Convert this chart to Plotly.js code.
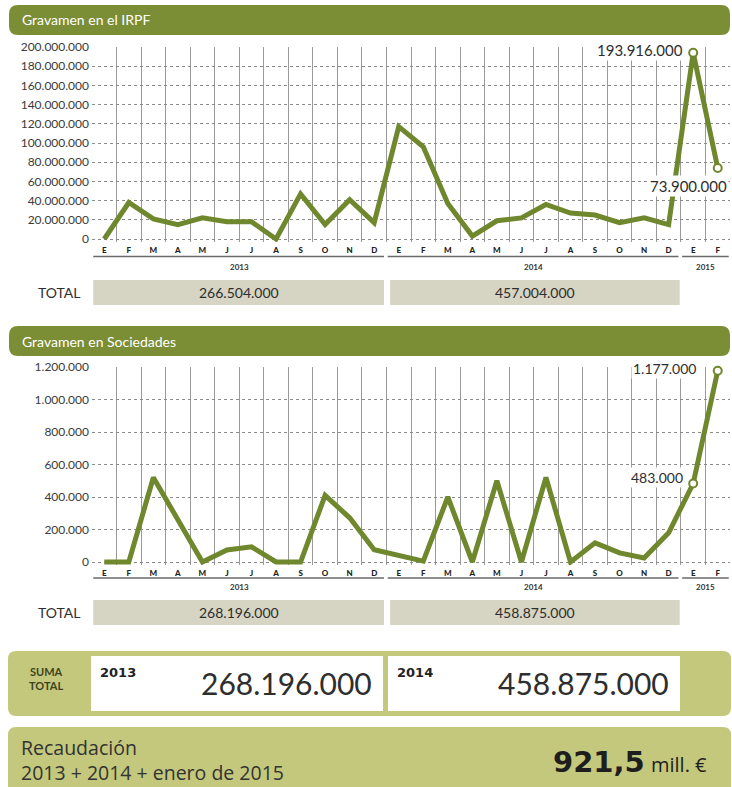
<!DOCTYPE html>
<html><head><meta charset="utf-8">
<script src="https://cdn.plot.ly/plotly-3.0.1.min.js"></script>
<style>html,body{margin:0;padding:0;background:#fff}#chart{width:732px;height:787px}</style>
</head><body><div id="chart"></div>
<script>
// ---- data ----
const months = ['E','F','M','A','M','J','J','A','S','O','N','D',
                'E','F','M','A','M','J','J','A','S','O','N','D',
                'E','F'];
const irpf = [0, 38e6, 21e6, 15e6, 22e6, 18e6, 18e6, 0, 47e6, 15e6, 41e6, 17e6,
              117e6, 96e6, 37e6, 3e6, 19e6, 22e6, 36e6, 27e6, 25e6, 17e6, 22e6, 15e6,
              193916000, 73900000];
const sociedades = [0, 0, 520e3, 265e3, 0, 74e3, 93e3, 0, 0, 410e3, 272e3, 75e3,
                    40e3, 5e3, 400e3, 0, 500e3, 0, 520e3, 0, 118e3, 56e3, 25e3, 180e3,
                    483e3, 1177e3];
const years = ['2013','2014','2015'];
const yearStart = [0, 12, 24];
const yearEnd = [11, 23, 25];
const totalsIRPF = ['266.504.000','457.004.000'];
const totalsSoc = ['268.196.000','458.875.000'];
const sumYears = ['2013','2014'];
const sumValues = ['268.196.000','458.875.000'];
const irpfLabels = ['193.916.000','73.900.000'];
const socLabels = ['483.000','1.177.000'];
const grandTotal = '921,5';

// ---- helpers ----
const W = 732, H = 787;
const px = x => x / W;
const py = y => 1 - y / H;
const idx = months.map((_, i) => i);
const half = months.slice(0, -1).map((_, i) => i + 0.5);
const olive = '#7b8d35', lineCol = '#6f872d', textCol = '#2e2e2e';
const boxCol = '#d6d4c2', panelCol = '#c4c87c';

function rrect(x0, y0, x1, y1, r, fill) {
  const X = v => px(v).toFixed(5), Y = v => py(v).toFixed(5);
  const p = `M${X(x0+r)},${Y(y0)} L${X(x1-r)},${Y(y0)} Q${X(x1)},${Y(y0)} ${X(x1)},${Y(y0+r)} ` +
            `L${X(x1)},${Y(y1-r)} Q${X(x1)},${Y(y1)} ${X(x1-r)},${Y(y1)} L${X(x0+r)},${Y(y1)} ` +
            `Q${X(x0)},${Y(y1)} ${X(x0)},${Y(y1-r)} L${X(x0)},${Y(y0+r)} Q${X(x0)},${Y(y0)} ${X(x0+r)},${Y(y0)} Z`;
  return {type:'path', xref:'paper', yref:'paper', path:p, fillcolor:fill, line:{width:0}, layer:'below'};
}
function rect(xref, x0, x1, y0, y1, fill) {
  return {type:'rect', xref:xref, yref:'paper', x0:x0, x1:x1, y0:py(y1), y1:py(y0),
          fillcolor:fill, line:{width:0}, layer:'below'};
}
function txt(text, x, y, opts) {
  return Object.assign({text:text, x:px(x), y:py(y), xref:'paper', yref:'paper',
    showarrow:false, xanchor:'left', yanchor:'middle',
    font:{family:'Lato', size:13, color:textCol}}, opts || {});
}

const shapes = [], annotations = [];

// header bars
shapes.push(rrect(9, 5, 730, 35, 9, olive));
shapes.push(rrect(9, 326, 730, 356, 9, olive));
annotations.push(txt('Gravamen en el IRPF', 20, 20, {font:{family:'Lato', size:14, color:'#fff'}}));
annotations.push(txt('Gravamen en Sociedades', 20, 341, {font:{family:'Lato', size:14, color:'#fff'}}));

// year group lines, year labels, total boxes for both charts
function groupDecor(xref, lineY, labelY, boxY0, boxY1, totals) {
  years.forEach((yr, k) => {
    shapes.push({type:'line', xref:xref, yref:'paper', x0:yearStart[k]-0.45,
      x1: k === years.length-1 ? yearEnd[k]+0.45 : yearEnd[k]+0.4,
      y0:py(lineY), y1:py(lineY), line:{color:'#6a6a6a', width:1.5}});
    annotations.push({text:yr, xref:xref, yref:'paper',
      x:(yearStart[k]+yearEnd[k])/2, y:py(labelY), showarrow:false, yanchor:'middle',
      font:{family:'Lato', size:8, color:'#333', weight:'bold'}});
  });
  totals.forEach((t, k) => {
    const a = yearStart[k] - (k === 0 ? 0.45 : 0.35), b = yearEnd[k] + (k === 0 ? 0.4 : 0.45);
    shapes.push(rect(xref, a, b, boxY0, boxY1, boxCol));
    annotations.push({text:t, xref:xref, yref:'paper', x:(a+b)/2, y:py((boxY0+boxY1)/2),
      showarrow:false, yanchor:'middle', font:{family:'Lato', size:14, color:textCol}});
  });
  annotations.push(txt('TOTAL', 60, (boxY0+boxY1)/2, {xanchor:'center', font:{family:'Lato', size:14, color:textCol}}));
}
groupDecor('x', 256.5, 266.5, 280, 305, totalsIRPF);
groupDecor('x2', 578, 587, 600, 625, totalsSoc);

// value annotations
annotations.push({text:irpfLabels[0], xref:'x', yref:'y', x:24, y:irpf[24], showarrow:false,
  xanchor:'right', yanchor:'middle', xshift:-8, yshift:3, bgcolor:'#fff',
  font:{family:'Lato', size:15, color:textCol}});
annotations.push({text:irpfLabels[1], xref:'x', yref:'y', x:25, y:irpf[25], showarrow:false,
  xanchor:'right', yanchor:'middle', xshift:11, yshift:-18, bgcolor:'#fff',
  font:{family:'Lato', size:15, color:textCol}});
annotations.push({text:socLabels[1], xref:'x2', yref:'y2', x:25, y:sociedades[25], showarrow:false,
  xanchor:'right', yanchor:'middle', xshift:-20, yshift:2, bgcolor:'#fff',
  font:{family:'Lato', size:14, color:textCol}});
annotations.push({text:socLabels[0], xref:'x2', yref:'y2', x:24, y:sociedades[24], showarrow:false,
  xanchor:'right', yanchor:'middle', xshift:-8, yshift:6, bgcolor:'#fff',
  font:{family:'Lato', size:14, color:textCol}});

// footer panels
shapes.push(rrect(8, 651, 731, 716, 8, panelCol));
shapes.push(rrect(8, 727, 731, 800, 8, panelCol));
sumYears.forEach((yr, k) => {
  const x0 = k === 0 ? 91 : 388, x1 = k === 0 ? 383 : 680;
  shapes.push({type:'rect', xref:'paper', yref:'paper', x0:px(x0), x1:px(x1), y0:py(711), y1:py(656),
    fillcolor:'#fff', line:{width:0}, layer:'below'});
  annotations.push(txt(yr, x0 + 7, 672, {font:{family:'DejaVu Sans', size:13, color:'#222', weight:'bold'}}));
  annotations.push(txt(sumValues[k], x1 - 9, 683, {xanchor:'right', font:{family:'Lato', size:30, color:textCol}}));
});
annotations.push(txt('SUMA<br>TOTAL', 46, 678, {xanchor:'center', font:{family:'Lato', size:11, color:'#3c4322', weight:'bold'}}));
annotations.push(txt('Recaudación<br>2013 + 2014 + enero de 2015', 19, 760, {align:'left', font:{family:'Open Sans', size:19.5, color:'#333'}}));
annotations.push(txt(grandTotal, 647, 762, {xanchor:'right', font:{family:'DejaVu Sans', size:29, color:'#1e1e1e', weight:'bold'}}));
annotations.push(txt('mill. €', 649, 764, {font:{family:'Open Sans', size:20, color:'#1e1e1e'}}));

// ---- traces ----
const traces = [
  {x:idx, y:irpf, xaxis:'x', yaxis:'y', mode:'lines', line:{color:lineCol, width:5}, hoverinfo:'skip'},
  {x:idx.slice(24), y:irpf.slice(24), xaxis:'x', yaxis:'y', mode:'markers', cliponaxis:false,
   marker:{size:8, color:'#fff', line:{color:lineCol, width:2}}, hoverinfo:'skip'},
  {x:idx, y:sociedades, xaxis:'x2', yaxis:'y2', mode:'lines', line:{color:lineCol, width:5}, hoverinfo:'skip'},
  {x:idx.slice(24), y:sociedades.slice(24), xaxis:'x2', yaxis:'y2', mode:'markers', cliponaxis:false,
   marker:{size:8, color:'#fff', line:{color:lineCol, width:2}}, hoverinfo:'skip'}
];

function xAxis(anchor) {
  return {domain:[px(92), px(730)], range:[-0.5, 25.5], anchor:anchor,
    tickmode:'array', tickvals:idx, ticktext:months, ticks:'', showgrid:false, zeroline:false,
    showline:false, ticklabelstandoff:2,
    tickfont:{family:'Lato', size:8, color:'#222', weight:900},
    minor:{tickmode:'array', tickvals:half, showgrid:true, gridcolor:'#9a9a9a', gridwidth:1, ticks:''},
    fixedrange:true};
}
function yAxis(anchor, range, top, bottom, dtick) {
  return {domain:[py(bottom), py(top)], range:range, anchor:anchor, dtick:dtick, tick0:0,
    tickformat:',d', showgrid:true, gridcolor:'#8a8a8a', griddash:'dot', gridwidth:1,
    zeroline:false, showline:false, ticks:'', ticklabelstandoff:2,
    tickfont:{family:'Lato', size:12, color:'#3a3a3a'}, fixedrange:true};
}

const layout = {
  width:W, height:H, margin:{l:0, r:0, t:0, b:0},
  paper_bgcolor:'#fff', plot_bgcolor:'rgba(0,0,0,0)', showlegend:false,
  separators:',.', font:{family:'Lato', color:textCol},
  xaxis:xAxis('y'),
  yaxis:yAxis('x', [-3e6, 200e6], 47, 239 + 3*0.96, 20e6),
  xaxis2:xAxis('y2'),
  yaxis2:yAxis('x2', [-20000, 1200000], 367, 562 + 3.25, 200000),
  shapes:shapes, annotations:annotations
};

Plotly.newPlot('chart', traces, layout, {staticPlot:true, displayModeBar:false});
</script></body></html>
